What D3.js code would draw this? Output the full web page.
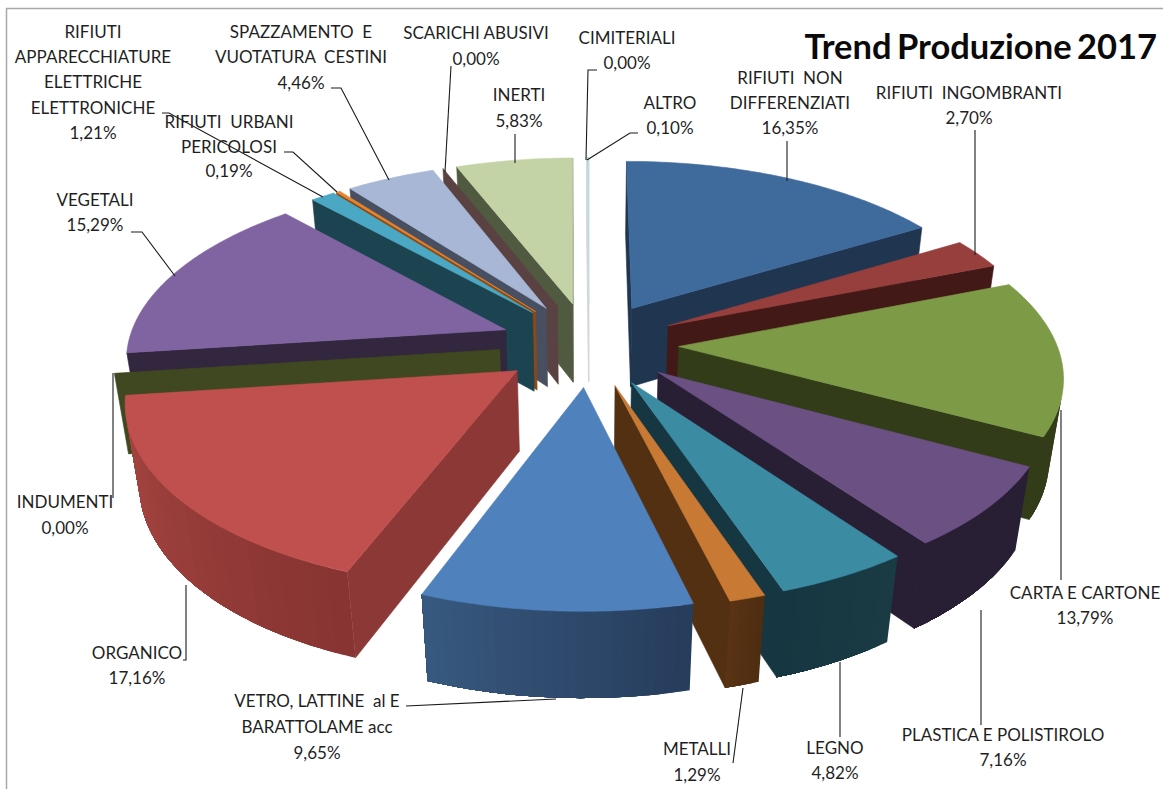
<!DOCTYPE html>
<html><head><meta charset="utf-8">
<script src="https://cdn.jsdelivr.net/npm/d3@7"></script>
<style>html,body{margin:0;background:#fff}svg{display:block}</style></head>
<body><svg id="c" width="1163" height="789"></svg>
<script>
const categories=["RIFIUTI NON DIFFERENZIATI","RIFIUTI INGOMBRANTI","CARTA E CARTONE","PLASTICA E POLISTIROLO","LEGNO","METALLI","VETRO, LATTINE al E BARATTOLAME acc","ORGANICO","INDUMENTI","VEGETALI","RIFIUTI APPARECCHIATURE ELETTRICHE ELETTRONICHE","RIFIUTI URBANI PERICOLOSI","SPAZZAMENTO E VUOTATURA CESTINI","SCARICHI ABUSIVI","INERTI","CIMITERIALI","ALTRO"];
const values=[16.35,2.70,13.79,7.16,4.82,1.29,9.65,17.16,0.00,15.29,1.21,0.19,4.46,0.00,5.83,0.00,0.10];
const topColors=["#3F6A9C","#973F3C","#7D9A46","#6A5083","#3B8CA3","#C87A35","#4F81BD","#C0504D","#4A5526","#8064A2","#4BA8C4","#E8852F","#A7B7D5","#5A4242","#C3D3A6","#D8D8D8","#B4DCE9"];
const wallColors=["#1F3550","#421916","#333C19","#291F35","#163741","#533012","#263D5C","#8C3836","#3F4820","#33263F","#1C4350","#8A4A15","#474F60","#5A4242","#505A40","#D8D8D8","#C8CCD0"];
const rimStart=["#1F3550","#421916","#333C19","#291F35","#163741","#5A3414","#38597F","#A84642","#3F4820","#33263F","#1C4350","#8A4A15","#474F60","#5A4242","#505A40","#D8D8D8","#C8CCD0"];
const rimEnd=["#1F3550","#421916","#333C19","#291F35","#1A3A44","#4F2D11","#263D5C","#873432","#3F4820","#33263F","#1C4350","#8A4A15","#474F60","#5A4242","#505A40","#D8D8D8","#C8CCD0"];
const titleText="Trend Produzione 2017";

// label layout: centre x, line centre ys, leader polyline
const labelLines=[["RIFIUTI  NON","DIFFERENZIATI","16,35%"],["RIFIUTI  INGOMBRANTI","2,70%"],["CARTA E CARTONE","13,79%"],["PLASTICA E POLISTIROLO","7,16%"],["LEGNO","4,82%"],["METALLI","1,29%"],["VETRO, LATTINE  al E","BARATTOLAME acc","9,65%"],["ORGANICO","17,16%"],["INDUMENTI","0,00%"],["VEGETALI","15,29%"],["RIFIUTI","APPARECCHIATURE","ELETTRICHE","ELETTRONICHE","1,21%"],["RIFIUTI  URBANI","PERICOLOSI","0,19%"],["SPAZZAMENTO  E","VUOTATURA  CESTINI","4,46%"],["SCARICHI ABUSIVI","0,00%"],["INERTI","5,83%"],["CIMITERIALI","0,00%"],["ALTRO","0,10%"]];
const labelX=[790,969,1085,1003,835,697,317,137,65,95,93,229,301,476,519,627,670];
const labelY=[[78,103,128],[93,118],[593,618],[735,760],[748,773],[749,775],[701,727,753],[653,678],[502,528],[200,225],[32,57,82,108,133],[122,147,171],[32,57,83],[33,59],[95,121],[38,63],[103,128]];
const leaders=[[[787,141],[787,181]],[[975,130],[975,255]],[[1061,410],[1061,580]],[[981,610],[981,725]],[[840,662],[840,737]],[[733,763],[743,688]],[[406,706],[556,699]],[[186,585],[186,660],[183,660]],[[113,498],[113,373]],[[131,232],[142,232],[175,276]],[[162,113],[169,113],[323,197]],[[284,152],[293,152],[337,192]],[[331,88],[341,88],[389,180]],[[451,66],[445,172]],[[515,134],[515,163]],[[597,70],[588,70],[586,160]],[[638,133],[630,133],[587,160]]];

const svg=d3.select("#c");
// frame
svg.append("path").attr("d","M6.5,789V8.5H1163").attr("fill","none").attr("stroke","#A8A8A8").attr("stroke-width",1.5);

// 3D projection of the pie plane
const cx=589,cy=344,S=378,tilt=.47,persp=.144,H=82,zShrink=.03,explode=.237;
function proj(X,Y,Z){const f=1/(1-persp*Y+zShrink*Z);return [cx+S*X*f,cy+(S*tilt*Y+H*Z)*f];}
const line=d3.line();
const area=pts=>{let a=0;pts.forEach((p,i)=>{const q=pts[(i+1)%pts.length];a+=p[0]*q[1]-q[0]*p[1];});return a;};

const pie=d3.pie().value((d,i)=>values[i]).sort(null);
const arcs=pie(values).map((a,i)=>({...a,i,mid:(a.startAngle+a.endAngle)/2}));
const depth=a=>-Math.cos(a.mid);
const order=[...arcs].sort((a,b)=>depth(a)-depth(b));
const BANDS=24;

order.forEach(a=>{
  const i=a.i,g=svg.append("g").attr("class","slice");
  const ox=explode*Math.sin(a.mid),oy=-explode*Math.cos(a.mid);
  const rim=(t,z)=>proj(ox+Math.sin(t),oy-Math.cos(t),z);
  const apex=z=>proj(ox,oy,z);
  const face=(pts,col)=>g.append("path").attr("d",line(pts)+"Z").attr("fill",col).attr("stroke",col).attr("stroke-width",.6);
  if(a.endAngle-a.startAngle<1e-6){
    face([apex(0),rim(a.startAngle,0),rim(a.startAngle,1),apex(1)],wallColors[i]);
    return;
  }
  const sweep=[];const n=Math.max(2,Math.ceil((a.endAngle-a.startAngle)/.012));
  for(let k=0;k<=n;k++)sweep.push(a.startAngle+(a.endAngle-a.startAngle)*k/n);
  const topPts=[apex(0),...sweep.map(t=>rim(t,0))];
  const sgn=Math.sign(area(topPts));
  const quadS=[apex(0),apex(1),rim(a.startAngle,1),rim(a.startAngle,0)];
  const quadE=[apex(0),rim(a.endAngle,0),rim(a.endAngle,1),apex(1)];
  if(Math.sign(area(quadS))===sgn)face(quadS,wallColors[i]);
  if(Math.sign(area(quadE))===sgn)face(quadE,wallColors[i]);
  // outer wall: each visible band runs from its start to the far end of the
  // visible stretch, so later bands simply paint over earlier ones with no seam
  const shade=d3.interpolateRgb(rimEnd[i],rimStart[i]);
  const vis=d3.range(n).map(k=>Math.sign(area([rim(sweep[k],0),rim(sweep[k],1),rim(sweep[k+1],1),rim(sweep[k+1],0)]))===sgn);
  const visIdx=d3.range(n).filter(k=>vis[k]);
  if(visIdx.length){
    const k0=visIdx[0],k1=visIdx[visIdx.length-1]+1;
    let band=-1;
    for(let k=k0;k<k1;k++){
      const b=Math.floor(k/n*BANDS);
      if(b===band)continue;
      band=b;
      const run=sweep.slice(k,k1+1);
      g.append("path").attr("d",line([...run.map(t=>rim(t,0)),...run.slice().reverse().map(t=>rim(t,1))])+"Z")
        .attr("fill",d3.color(shade(b/(BANDS-1))).formatHex());
    }
  }
  face(topPts,topColors[i]);
});

// leaders
const leaderG=svg.append("g");
leaders.forEach(l=>leaderG.append("path").attr("d",line(l)).attr("fill","none").attr("stroke","#1a1a1a").attr("stroke-width",1.1));
// labels
const labelG=svg.append("g").attr("font-family","Lato, sans-serif").attr("font-size",17).attr("fill","#1f1f1f").attr("text-anchor","middle");
labelLines.forEach((ls,i)=>ls.forEach((t,j)=>labelG.append("text").attr("x",labelX[i]).attr("y",labelY[i][j]).attr("dy","0.35em").style("white-space","pre").text(t)));
svg.append("text").attr("x",1157).attr("y",59).attr("text-anchor","end").attr("font-family","Lato, sans-serif").attr("font-weight",700).attr("font-size",34.5).attr("word-spacing",-3).attr("fill","#0a0a0a").text(titleText);
</script></body></html>
